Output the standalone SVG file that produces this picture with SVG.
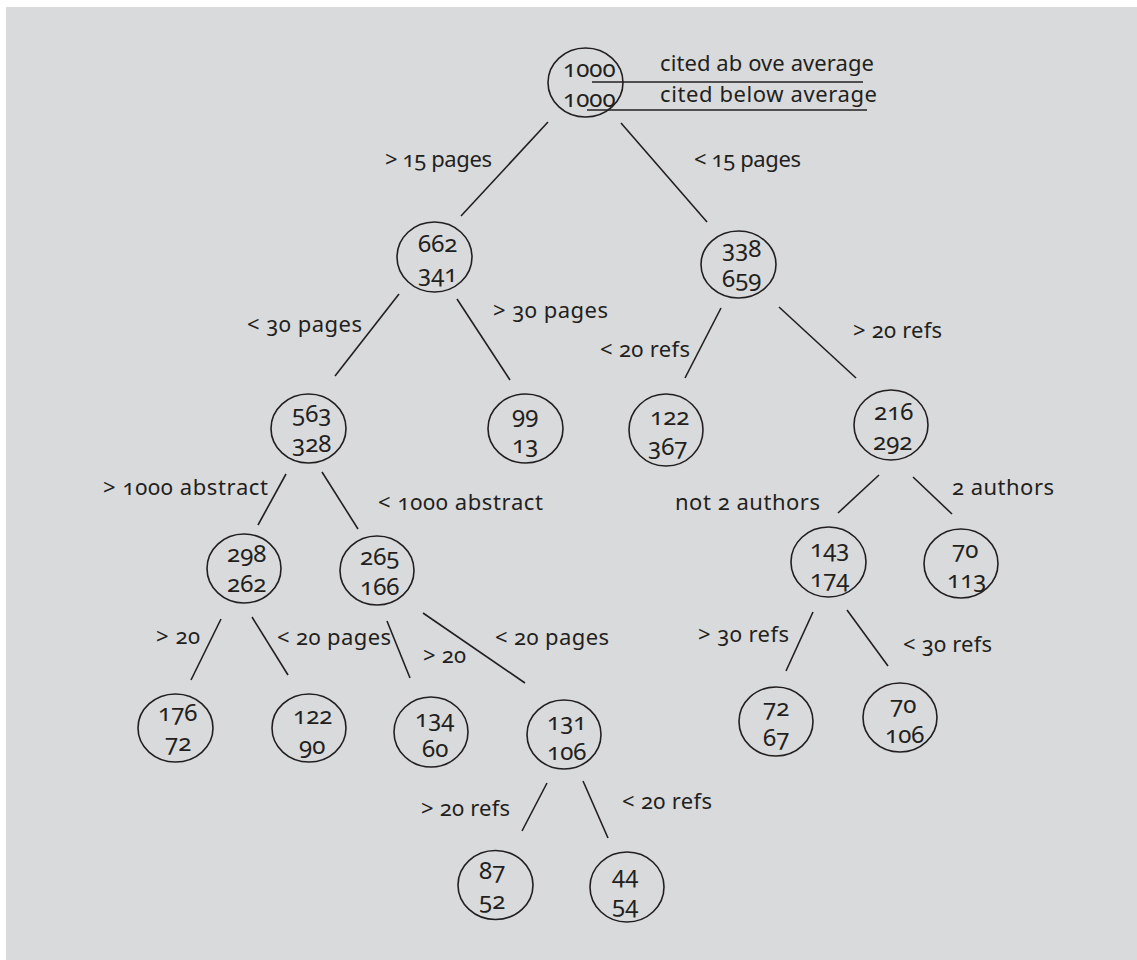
<svg xmlns="http://www.w3.org/2000/svg" width="1137" height="960" viewBox="0 0 1137 960">
<style>
.bg{fill:#d9dadb}
ellipse{fill:none;stroke:#231f20;stroke-width:1.6}
line{stroke:#231f20;stroke-width:1.6}
text{font-family:"Noto Sans","Open Sans","Liberation Sans",sans-serif;font-size:22px;fill:#231f20;font-variant-numeric:oldstyle-nums;font-feature-settings:"onum" 1}
g.node text{font-size:24px}
</style>
<rect x="0" y="0" width="1137" height="960" fill="#ffffff"/>
<rect class="bg" x="6" y="7" width="1131" height="953"/>
<g id="connectors">
<line x1="592" y1="82" x2="863" y2="82"/>
<line x1="587" y1="110" x2="867" y2="110"/>
<line x1="548" y1="122" x2="461" y2="216"/>
<line x1="621" y1="123" x2="707" y2="222"/>
<line x1="399" y1="294" x2="335" y2="376"/>
<line x1="457" y1="299" x2="510" y2="380"/>
<line x1="721" y1="308" x2="685" y2="378"/>
<line x1="779" y1="307" x2="856" y2="378"/>
<line x1="286" y1="474" x2="258" y2="525"/>
<line x1="322" y1="472" x2="358" y2="529"/>
<line x1="879" y1="475" x2="838" y2="513"/>
<line x1="913" y1="477" x2="952" y2="514"/>
<line x1="221" y1="619" x2="191" y2="680"/>
<line x1="252" y1="617" x2="288" y2="675"/>
<line x1="387" y1="621" x2="410" y2="678"/>
<line x1="423" y1="613" x2="525" y2="683"/>
<line x1="813" y1="612" x2="786" y2="671"/>
<line x1="847" y1="610" x2="888" y2="666"/>
<line x1="547" y1="783" x2="522" y2="831"/>
<line x1="583" y1="781" x2="608" y2="838"/>
</g>
<g id="labels">
<text x="660" y="71" textLength="214">cited ab ove average</text>
<text x="660" y="102" textLength="217">cited below average</text>
<text x="385" y="167" textLength="107">&gt; 15 pages</text>
<text x="694" y="167" textLength="107">&lt; 15 pages</text>
<text x="247" y="332" textLength="115">&lt; 30 pages</text>
<text x="493" y="318" textLength="115">&gt; 30 pages</text>
<text x="600" y="357" textLength="90">&lt; 20 refs</text>
<text x="853" y="338" textLength="89">&gt; 20 refs</text>
<text x="103" y="495" textLength="165">&gt; 1000 abstract</text>
<text x="378" y="510" textLength="165">&lt; 1000 abstract</text>
<text x="675" y="510" textLength="145">not 2 authors</text>
<text x="952" y="495" textLength="102">2 authors</text>
<text x="156" y="644" textLength="44">&gt; 20</text>
<text x="277" y="645" textLength="114">&lt; 20 pages</text>
<text x="423" y="663" textLength="43">&gt; 20</text>
<text x="495" y="645" textLength="114">&lt; 20 pages</text>
<text x="698" y="642" textLength="91">&gt; 30 refs</text>
<text x="903" y="652" textLength="89">&lt; 30 refs</text>
<text x="421" y="816" textLength="89">&gt; 20 refs</text>
<text x="622" y="809" textLength="90">&lt; 20 refs</text>
</g>
<g id="n-root" class="node"><ellipse cx="585.5" cy="82.5" rx="37.5" ry="34.5"/><text x="563" y="77">1000</text><text x="563" y="107">1000</text></g>
<g id="n-662" class="node"><ellipse cx="434.5" cy="257" rx="37.5" ry="35"/><text x="418" y="252">662</text><text x="418" y="282">341</text></g>
<g id="n-338" class="node"><ellipse cx="738.5" cy="264.5" rx="37.5" ry="33.5"/><text x="722" y="257">338</text><text x="722" y="287">659</text></g>
<g id="n-563" class="node"><ellipse cx="308.5" cy="428.5" rx="37.5" ry="34.5"/><text x="292" y="422">563</text><text x="292" y="452">328</text></g>
<g id="n-99" class="node"><ellipse cx="525.5" cy="428.5" rx="37.5" ry="34.5"/><text x="512" y="423">99</text><text x="512" y="453">13</text></g>
<g id="n-122a" class="node"><ellipse cx="666" cy="430" rx="37" ry="36"/><text x="650" y="425">122</text><text x="648" y="455">367</text></g>
<g id="n-216" class="node"><ellipse cx="891" cy="425" rx="37" ry="35"/><text x="874" y="420">216</text><text x="873" y="450">292</text></g>
<g id="n-298" class="node"><ellipse cx="244" cy="568.5" rx="37" ry="34.5"/><text x="227" y="562">298</text><text x="227" y="592">262</text></g>
<g id="n-265" class="node"><ellipse cx="377" cy="570.5" rx="37" ry="34.5"/><text x="360" y="565">265</text><text x="360" y="595">166</text></g>
<g id="n-143" class="node"><ellipse cx="828.5" cy="562" rx="37.5" ry="35"/><text x="810" y="557">143</text><text x="810" y="587">174</text></g>
<g id="n-70a" class="node"><ellipse cx="961" cy="563.5" rx="37" ry="34.5"/><text x="952" y="558">70</text><text x="947" y="588">113</text></g>
<g id="n-176" class="node"><ellipse cx="175.5" cy="728" rx="37.5" ry="34"/><text x="158" y="721">176</text><text x="165" y="751">72</text></g>
<g id="n-122b" class="node"><ellipse cx="309" cy="728" rx="37" ry="34"/><text x="293" y="724">122</text><text x="299" y="754">90</text></g>
<g id="n-134" class="node"><ellipse cx="431" cy="732" rx="37" ry="35"/><text x="415" y="727">134</text><text x="422" y="757">60</text></g>
<g id="n-131" class="node"><ellipse cx="564" cy="734.5" rx="37" ry="34.5"/><text x="547" y="730">131</text><text x="547" y="760">106</text></g>
<g id="n-72" class="node"><ellipse cx="776" cy="721.5" rx="37" ry="34.5"/><text x="763" y="716">72</text><text x="763" y="746">67</text></g>
<g id="n-70b" class="node"><ellipse cx="900" cy="717.5" rx="37" ry="34.5"/><text x="890" y="713">70</text><text x="885" y="743">106</text></g>
<g id="n-87" class="node"><ellipse cx="495.5" cy="885" rx="37.5" ry="34.5"/><text x="479" y="879">87</text><text x="479" y="909">52</text></g>
<g id="n-44" class="node"><ellipse cx="627" cy="887" rx="37" ry="35"/><text x="612" y="883">44</text><text x="612" y="913">54</text></g>
</svg>
